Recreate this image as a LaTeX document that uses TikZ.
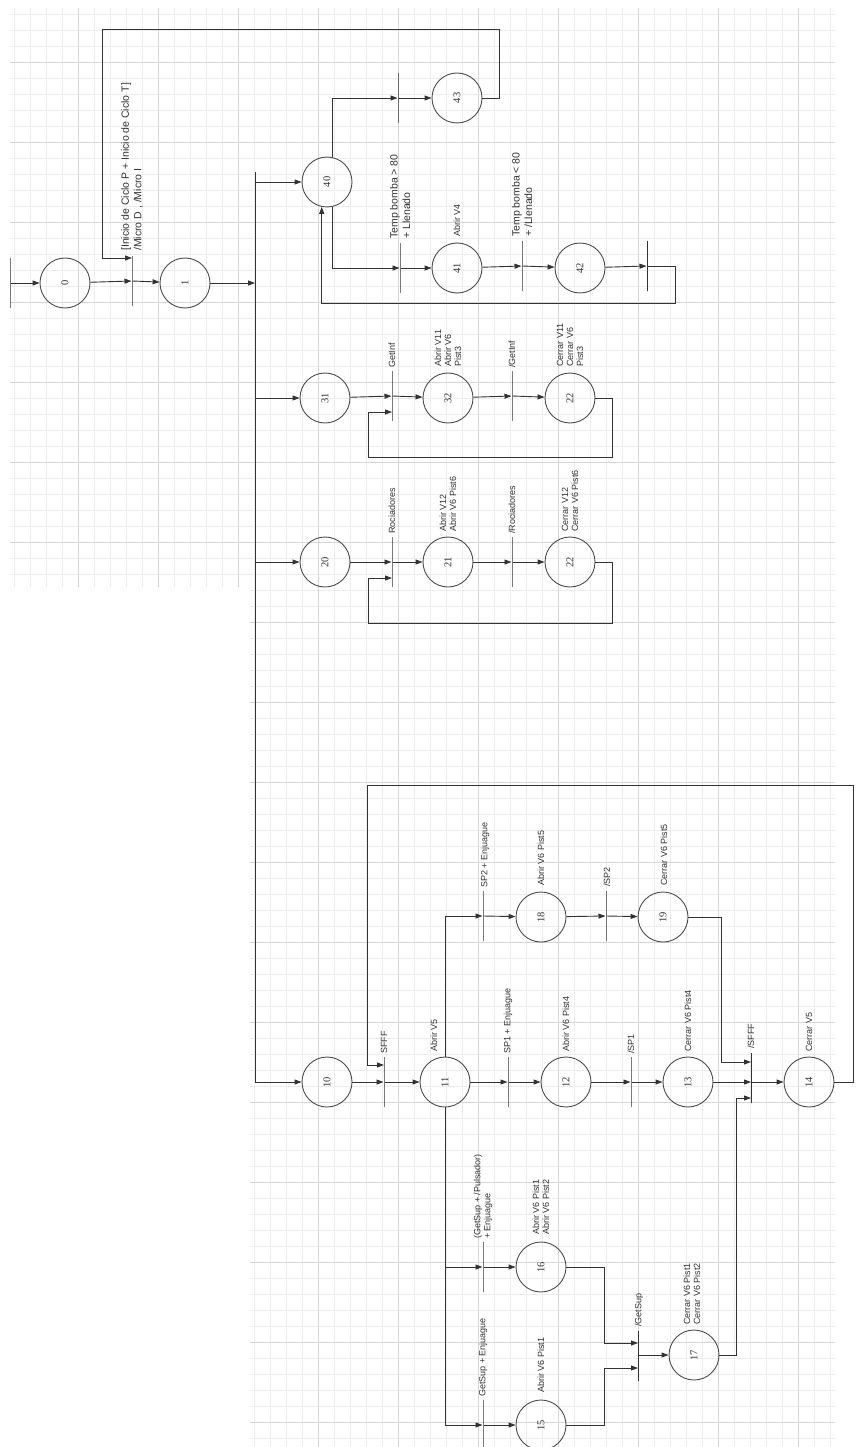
\documentclass[tikz,border=0pt]{standalone}
\usepackage{fontspec}
\setmainfont{Liberation Sans}
\newfontfamily\numfont{Liberation Serif}
\usepackage{graphicx}
\usetikzlibrary{arrows.meta}
\begin{document}
\begin{tikzpicture}[x=1pt,y=-1pt,
  st/.style={circle,draw=black!70,line width=0.9pt,minimum size=50pt,inner sep=0pt,font=\numfont\fontsize{10.5}{12}\selectfont,text=black!80},
  bar/.style={rectangle,draw=black!80,line width=1pt,minimum width=0pt,minimum height=50pt,inner sep=0pt},
  lab/.style={rotate=90,anchor=west,align=left,font=\fontsize{9}{10}\selectfont,inner sep=1pt,text=black!80},
  biglab/.style={lab,font=\fontsize{10.5}{12.5}\selectfont},
  arr/.style={-{Triangle[length=7pt,width=5pt]},line width=0.9pt,draw=black!80},
  ln/.style={line width=0.9pt,draw=black!80},
  gmin/.style={draw=black!7,line width=0.5pt},
  gmaj/.style={draw=black!16,line width=0.6pt}]
\useasboundingbox (0,0) rectangle (855,1447);
\fill[white] (0,0) rectangle (855,1447);
% grid
\begin{scope}
\clip (10,8) -- (835,8) -- (835,1447) -- (250,1447) -- (250,587) -- (10,587) -- cycle;
\foreach \i in {0,...,54} {\draw[gmin] ({-2+16*\i},0) -- ({-2+16*\i},1447);}
\foreach \j in {0,...,92} {\draw[gmin] (0,{-18+16*\j}) -- (855,{-18+16*\j});}
\foreach \i in {0,...,11} {\draw[gmaj] ({-2+80*\i},0) -- ({-2+80*\i},1447);}
\foreach \j in {0,...,19} {\draw[gmaj] (0,{-18+80*\j}) -- (855,{-18+80*\j});}
\end{scope}

% ---- start
\node[bar] (te) at (10,283) {};
\node[st] (s0) at (65,283) {\rotatebox{90}{0}};
\node[bar] (t0) at (132,281) {};
\node[st] (s1) at (185,283) {\rotatebox{90}{1}};
\coordinate (btop) at (255,172);
\coordinate (bbot) at (255,1082);
\draw[arr] (te) -- (s0);
\draw[arr] (s0) -- (t0);
\draw[arr] (t0) -- (s1);
\draw[arr] (s1) -- (s1 -| btop);
\draw[ln] (btop) -- (bbot);
\node[biglab] at (132,252) {[Inicio de Ciclo P + Inicio de Ciclo T]\\/Micro D , /Micro I};

% ---- branch 40
\node[st] (s40) at (327,182) {\rotatebox{90}{40}};
\node[bar] (t43) at (398,98) {};
\node[st] (s43) at (457,98) {\rotatebox{90}{43}};
\node[bar] (t41) at (400,268) {};
\node[st] (s41) at (457,268) {\rotatebox{90}{41}};
\node[bar] (t42) at (522,266) {};
\node[st] (s42) at (580,268) {\rotatebox{90}{42}};
\node[bar] (t4e) at (647,266) {};
\coordinate (c43a) at (499,29);
\coordinate (c43b) at (102,258);
\coordinate (c4r) at (675,303);
\draw[arr] (s40 -| btop) -- (s40);
\draw[arr] (s40.78) |- (t43);
\draw[arr] (t43) -- (s43);
\draw[arr] (s43.east) -| (c43a) -| (c43b) -- (c43b -| t0);
\draw[arr] (s40.282) |- (t41);
\draw[arr] (t41) -- (s41);
\draw[arr] (s41) -- (t42);
\draw[arr] (t42) -- (s42);
\draw[arr] (s42) -- (t4e);
\draw[arr] (t4e) -| (c4r) -| (s40.258);
\node[biglab] at (400,240) {Temp bomba > 80\\+ Llenado};
\node[lab] at (457,238) {Abrir V4};
\node[biglab] at (522,238) {Temp bomba < 80\\+ /Llenado};

% ---- branch 31
\node[st] (s31) at (325,398) {\rotatebox{90}{31}};
\node[bar] (t31a) at (392,396) {};
\node[st] (s32) at (448,398) {\rotatebox{90}{32}};
\node[bar] (t31b) at (512,396) {};
\node[st] (s33) at (570,398) {\rotatebox{90}{22}};
\coordinate (c31r) at (612,457);
\coordinate (c31l) at (368,412);
\draw[arr] (s31 -| btop) -- (s31);
\draw[arr] (s31) -- (t31a);
\draw[arr] (t31a) -- (s32);
\draw[arr] (s32) -- (t31b);
\draw[arr] (t31b) -- (s33);
\draw[arr] (s33.east) -| (c31r) -| (c31l) -- (c31l -| t31a);
\node[lab] at (392,369) {GetInf};
\node[lab] at (448,368) {Abrir V11\\Abrir V6\\Pist3};
\node[lab] at (512,369) {/GetInf};
\node[lab] at (570,368) {Cerrar V11\\Cerrar V6\\Pist3};

% ---- branch 20
\node[st] (s20) at (325,562) {\rotatebox{90}{20}};
\node[bar] (t20a) at (392,562) {};
\node[st] (s21) at (448,562) {\rotatebox{90}{21}};
\node[bar] (t20b) at (512,562) {};
\node[st] (s22) at (570,562) {\rotatebox{90}{22}};
\coordinate (c20r) at (612,623);
\coordinate (c20l) at (368,578);
\draw[arr] (s20 -| btop) -- (s20);
\draw[arr] (s20) -- (t20a);
\draw[arr] (t20a) -- (s21);
\draw[arr] (s21) -- (t20b);
\draw[arr] (t20b) -- (s22);
\draw[arr] (s22.east) -| (c20r) -| (c20l) -- (c20l -| t20a);
\node[lab] at (392,535) {Rociadores};
\node[lab] at (448,533) {Abrir V12\\Abrir V6 Pist6};
\node[lab] at (512,535) {/Rociadores};
\node[lab] at (570,533) {Cerrar V12\\Cerrar V6 Pist6};

% ---- branch 10
\node[st] (s10) at (327,1082) {\rotatebox{90}{10}};
\node[bar] (t10) at (384,1082) {};
\node[st] (s11) at (445,1082) {\rotatebox{90}{11}};
\node[bar] (t12) at (508,1082) {};
\node[st] (s12) at (566,1082) {\rotatebox{90}{12}};
\node[bar] (t13) at (631,1082) {};
\node[st] (s13) at (688,1082) {\rotatebox{90}{13}};
\node[bar] (t14) at (751,1078) {};
\node[st] (s14) at (809,1082) {\rotatebox{90}{14}};
\node[bar] (t18) at (483,916) {};
\node[st] (s18) at (541,917) {\rotatebox{90}{18}};
\node[bar] (t19) at (606,916) {};
\node[st] (s19) at (663,917) {\rotatebox{90}{19}};
\node[bar] (t16) at (483,1267) {};
\node[st] (s16) at (541,1267) {\rotatebox{90}{16}};
\node[bar] (t15) at (483,1425) {};
\node[st] (s15) at (541,1425) {\rotatebox{90}{15}};
\node[bar] (t17) at (638,1356) {};
\node[st] (s17) at (694,1355) {\rotatebox{90}{17}};
\coordinate (c14r) at (853,785);
\coordinate (c14l) at (367,1065);
\coordinate (c19) at (721,1062);
\coordinate (c16) at (604,1343);
\coordinate (c15) at (604,1368);
\coordinate (c17) at (736,1098);
\draw[arr] (bbot) -- (s10);
\draw[arr] (s10) -- (t10);
\draw[arr] (t10) -- (s11);
\draw[arr] (s11) -- (t12);
\draw[arr] (t12) -- (s12);
\draw[arr] (s12) -- (t13);
\draw[arr] (t13) -- (s13);
\draw[arr] (s13) -- (s13 -| t14);
\draw[arr] (t14 |- s14) -- (s14);
\draw[arr] (s14.east) -| (c14r) -| (c14l) -- (c14l -| t10);
\draw[arr] (s11.north) |- (t18);
\draw[arr] (t18) -- (s18);
\draw[arr] (s18) -- (t19);
\draw[arr] (t19) -- (s19);
\draw[arr] (s19.east) -| (c19) -- (c19 -| t14);
\draw[arr] (s11.south) |- (t16);
\draw[arr] (s11.south) |- (t15);
\draw[arr] (t16) -- (s16);
\draw[arr] (t15) -- (s15);
\draw[arr] (s16.east) -| (c16) -- (c16 -| t17);
\draw[arr] (s15.east) -| (c15) -- (c15 -| t17);
\draw[arr] (t17 |- s17) -- (s17);
\draw[arr] (s17.east) -| (c17) -- (c17 -| t14);
\node[lab] at (384,1055) {SFFF};
\node[lab] at (434,1053) {Abrir V5};
\node[lab] at (508,1055) {SP1 + Enjuague};
\node[lab] at (566,1053) {Abrir V6 Pist4};
\node[lab] at (631,1055) {/SP1};
\node[lab] at (688,1053) {Cerrar V6 Pist4};
\node[lab] at (751,1050) {/SFFF};
\node[lab] at (809,1053) {Cerrar V5};
\node[lab] at (485,889) {SP2 + Enjuague};
\node[lab] at (541,887) {Abrir V6 Pist5};
\node[lab] at (607,888) {/SP2};
\node[lab] at (664,887) {Cerrar V6 Pist5};
\node[lab] at (483,1240) {(GetSup + /Pulsador)\\+ Enjuague};
\node[lab] at (541,1236) {Abrir V6 Pist1\\Abrir V6 Pist2};
\node[lab] at (483,1398) {GetSup + Enjuague};
\node[lab] at (541,1394) {Abrir V6 Pist1};
\node[lab] at (639,1328) {/GetSup};
\node[lab] at (692,1326) {Cerrar V6 Pist1\\Cerrar V6 Pist2};
\end{tikzpicture}
\end{document}
